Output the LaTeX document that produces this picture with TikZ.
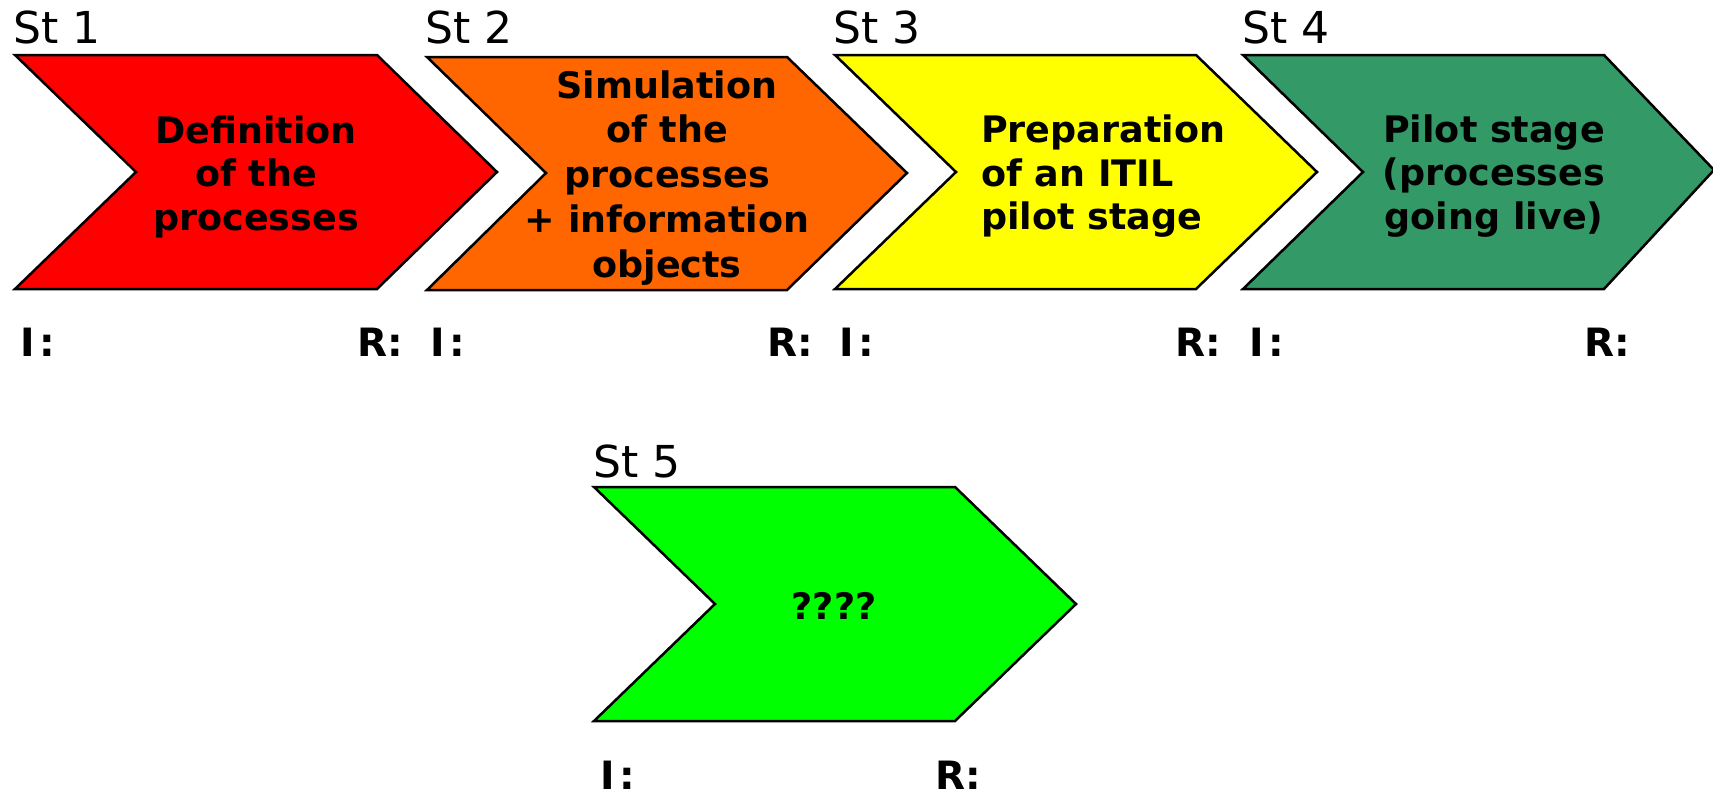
\documentclass[tikz,border=0pt]{standalone}
\usepackage{fontspec}
\setmainfont{DejaVu Sans}
\definecolor{cRed}{HTML}{FF0000}
\definecolor{cOrange}{HTML}{FF6600}
\definecolor{cYellow}{HTML}{FFFF00}
\definecolor{cSea}{HTML}{339966}
\definecolor{cLime}{HTML}{00FF00}
\newcommand{\Ilab}{I\kern5pt:}
\tikzset{
  chev/.style={draw=black, line width=2.5pt, line join=miter},
  stlabel/.style={anchor=base west, inner sep=0pt, font=\fontsize{44}{50}\selectfont},
  irlabel/.style={anchor=base west, inner sep=0pt, font=\fontsize{39}{44}\selectfont\bfseries},
  chevtext/.style={inner sep=0pt, align=center, font=\fontsize{36.5}{43.5}\selectfont\bfseries},
}
\begin{document}
\begin{tikzpicture}[x=1pt,y=-1pt]
\useasboundingbox (0,0) rectangle (1713,795);
\clip (0,0) rectangle (1713,795);
% chevrons
\draw[chev, fill=cRed] (15,55) -- (377,55) -- (497,172) -- (377,289) -- (15,289) -- (136,172) -- cycle;
\draw[chev, fill=cOrange] (427,57) -- (787,57) -- (907,173) -- (787,290) -- (427,290) -- (546,173) -- cycle;
\draw[chev, fill=cYellow] (835,55) -- (1196,55) -- (1317,172) -- (1196,289) -- (835,289) -- (956,172) -- cycle;
\draw[chev, fill=cSea] (1243,55) -- (1604,55) -- (1714,170) -- (1604,289) -- (1243,289) -- (1363,172) -- cycle;
\draw[chev, fill=cLime] (594,487) -- (955,487) -- (1076,604) -- (955,721) -- (594,721) -- (715,604) -- cycle;
% stage labels
\node[stlabel] (st1) at (13,43) {St 1};
\node[stlabel] (st2) at (425,43) {St 2};
\node[stlabel] (st3) at (833,43) {St 3};
\node[stlabel] (st4) at (1242,43) {St 4};
\node[stlabel] (st5) at (593,477) {St 5};
% chevron texts
\node[chevtext] (t1) at (256,176.5) {Definition\\of the\\processes};
\node[chevtext, font=\fontsize{36.5}{44.7}\selectfont\bfseries] (t2) at (667,177.7) {Simulation\\of the\\processes\\+ information\\objects};
\node[chevtext, align=left, anchor=west] (t3) at (981,176.5) {Preparation\\of an ITIL\\pilot stage};
\node[chevtext] (t4) at (1494,176) {Pilot stage\\(processes\\going live)};
\node[chevtext, anchor=base] (t5) at (834,619) {????};
% I / R labels
\node[irlabel] (i1) at (20,356) {\Ilab};
\node[irlabel] (r1) at (357,356) {R:};
\node[irlabel] (i2) at (430,356) {\Ilab};
\node[irlabel] (r2) at (767,356) {R:};
\node[irlabel] (i3) at (839,356) {\Ilab};
\node[irlabel] (r3) at (1175,356) {R:};
\node[irlabel] (i4) at (1249,356) {\Ilab};
\node[irlabel] (r4) at (1584,356) {R:};
\node[irlabel] (i5) at (600,789) {\Ilab};
\node[irlabel] (r5) at (935,789) {R:};
\end{tikzpicture}
\end{document}
